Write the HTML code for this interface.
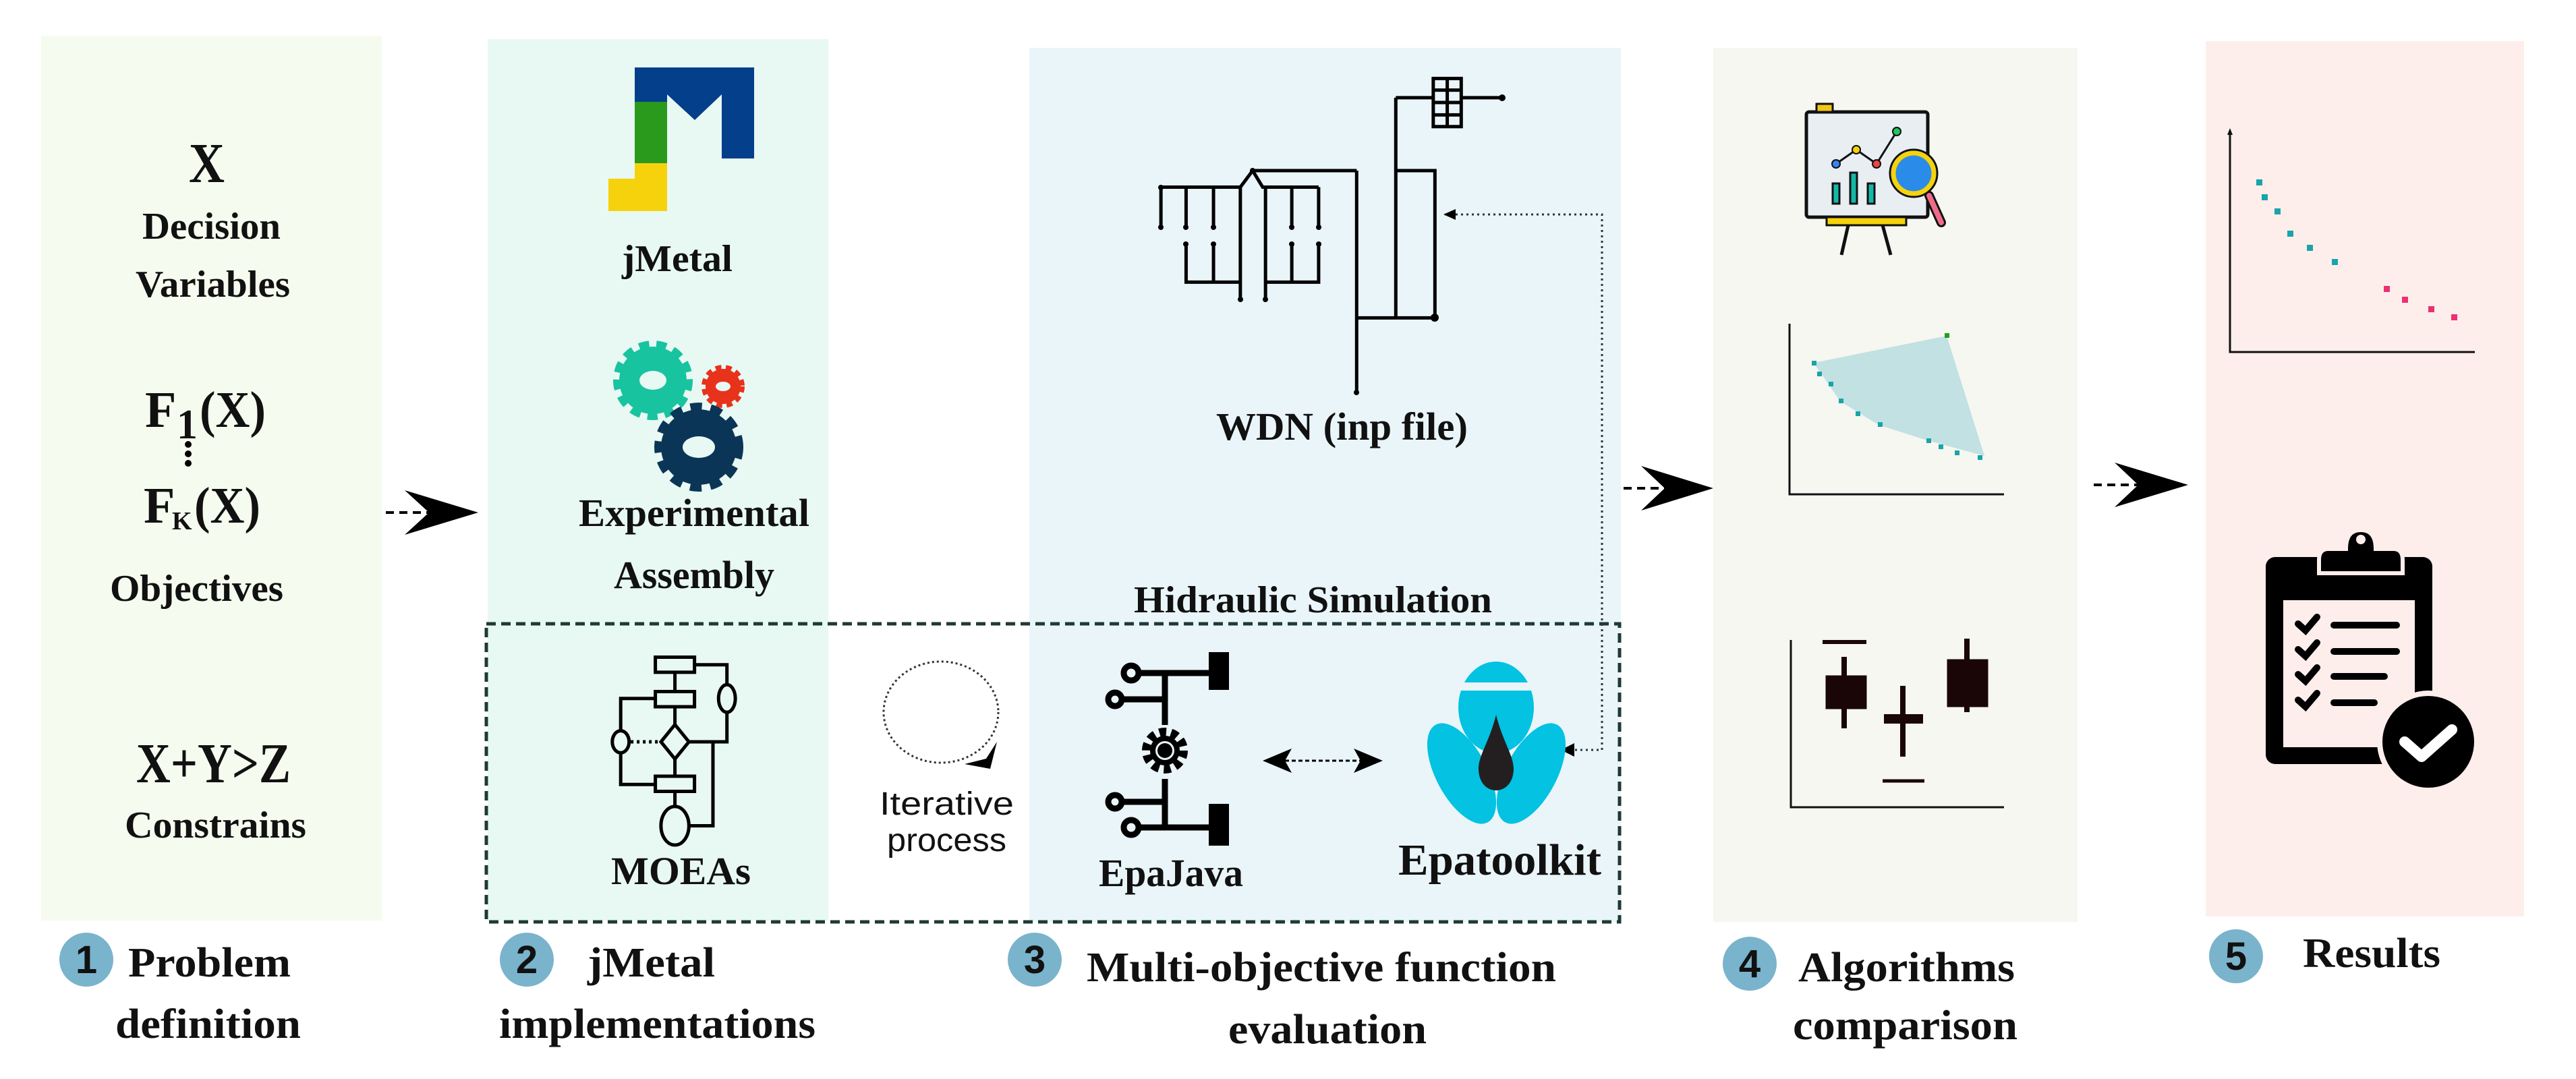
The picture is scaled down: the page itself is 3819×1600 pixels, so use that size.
<!DOCTYPE html>
<html><head><meta charset="utf-8"><style>
html,body{margin:0;padding:0;background:#fff;}
svg{display:block;}
text{font-family:"Liberation Serif",serif;font-weight:bold;fill:#111;}
.s{font-family:"Liberation Sans",sans-serif;font-weight:normal;}
</style></head><body>
<svg width="3819" height="1600" viewBox="0 0 3819 1600" xmlns="http://www.w3.org/2000/svg">
<!-- panels -->
<rect x="61" y="53" width="505" height="1312" fill="#f6fbef"/>
<rect x="723" y="58" width="505" height="1307" fill="#e8f8f3"/>
<rect x="1526" y="71" width="877" height="1296" fill="#e9f5f9"/>
<rect x="2540" y="71" width="540" height="1296" fill="#f5f7f0"/>
<rect x="3270" y="61" width="472" height="1298" fill="#fdeeec"/>
<!-- dashed box -->
<rect x="721" y="925" width="1680" height="442" fill="none" stroke="#1e3a34" stroke-width="5" stroke-dasharray="14,8"/>

<!-- arrows -->
<g fill="#000">
<line x1="572" y1="760" x2="640" y2="760" stroke="#000" stroke-width="4" stroke-dasharray="12,8"/>
<polygon points="709,760 600,727 636,760 600,793"/>
<line x1="2407" y1="724" x2="2475" y2="724" stroke="#000" stroke-width="4" stroke-dasharray="12,8"/>
<polygon points="2540,724 2433,691 2468,724 2433,757"/>
<line x1="3104" y1="719" x2="3172" y2="719" stroke="#000" stroke-width="4" stroke-dasharray="12,8"/>
<polygon points="3244,719 3135,686 3170,719 3135,752"/>
</g>

<!-- Panel 1 text -->
<text x="280" y="270" font-size="84" textLength="53" lengthAdjust="spacingAndGlyphs">X</text>
<text x="211" y="354" font-size="56" textLength="205" lengthAdjust="spacingAndGlyphs">Decision</text>
<text x="201" y="440" font-size="56" textLength="229" lengthAdjust="spacingAndGlyphs">Variables</text>
<text x="215" y="633" font-size="76">F</text>
<text x="262" y="650" font-size="62">1</text>
<text x="296" y="633" font-size="76" textLength="98" lengthAdjust="spacingAndGlyphs">(X)</text>
<circle cx="279" cy="659" r="5"/><circle cx="279" cy="673" r="5"/><circle cx="279" cy="687" r="5"/>
<text x="213" y="775" font-size="76">F</text>
<text x="255" y="785" font-size="38">K</text>
<text x="288" y="775" font-size="76" textLength="98" lengthAdjust="spacingAndGlyphs">(X)</text>
<text x="163" y="891" font-size="56" textLength="257" lengthAdjust="spacingAndGlyphs">Objectives</text>
<text x="202" y="1160" font-size="84" textLength="229" lengthAdjust="spacingAndGlyphs">X+Y&gt;Z</text>
<text x="185" y="1242" font-size="56" textLength="269" lengthAdjust="spacingAndGlyphs">Constrains</text>

<!-- Panel 2: jMetal logo -->
<polygon points="941,100 1118,100 1118,235 1070,235 1070,140 1030,178 989,140 989,151 941,151" fill="#033f8a"/>
<rect x="941" y="151" width="48" height="91" fill="#2a9a1d"/>
<polygon points="941,242 989,242 989,313 902,313 902,265 941,265" fill="#f5d20c"/>
<text x="922" y="402" font-size="56" textLength="164" lengthAdjust="spacingAndGlyphs">jMetal</text>
<!-- gears -->
<g>
<circle cx="968" cy="564" r="50" fill="#18c3a0" stroke="#18c3a0" stroke-width="18" stroke-dasharray="14,10"/>
<ellipse cx="968" cy="564" rx="20" ry="14" fill="#e8f8f3"/>
<circle cx="1072" cy="573" r="26" fill="#e8321b" stroke="#e8321b" stroke-width="12" stroke-dasharray="8,6"/>
<ellipse cx="1072" cy="573" rx="11" ry="7" fill="#e8f8f3"/>
<circle cx="1036" cy="663" r="56" fill="#0b3557" stroke="#0b3557" stroke-width="20" stroke-dasharray="16,12"/>
<ellipse cx="1036" cy="663" rx="24" ry="16" fill="#e8f8f3"/>
</g>
<text x="858" y="780" font-size="58" textLength="342" lengthAdjust="spacingAndGlyphs">Experimental</text>
<text x="910" y="872" font-size="58" textLength="238" lengthAdjust="spacingAndGlyphs">Assembly</text>
<!-- flowchart -->
<g transform="scale(0.829,1.0204)" fill="none" stroke="#000" stroke-width="5">
<rect x="1172" y="955" width="70" height="22" vector-effect="non-scaling-stroke"/>
<rect x="1172" y="1005" width="70" height="22" vector-effect="non-scaling-stroke"/>
<rect x="1172" y="1128" width="70" height="22" vector-effect="non-scaling-stroke"/>
<polyline points="1207,977 1207,1005" vector-effect="non-scaling-stroke"/>
<polyline points="1172,1015 1110,1015 1110,1062" vector-effect="non-scaling-stroke"/>
<polyline points="1110,1094 1110,1140 1172,1140" vector-effect="non-scaling-stroke"/>
<polyline points="1242,966 1300,966 1300,995" vector-effect="non-scaling-stroke"/>
<polyline points="1300,1035 1300,1078 1232,1078" vector-effect="non-scaling-stroke"/>
<polygon points="1207,1053 1232,1078 1207,1103 1182,1078" vector-effect="non-scaling-stroke"/>
<polyline points="1207,1027 1207,1053" vector-effect="non-scaling-stroke"/>
<polyline points="1207,1103 1207,1128" vector-effect="non-scaling-stroke"/>
<polyline points="1207,1150 1207,1172" vector-effect="non-scaling-stroke"/>
<polyline points="1275,1078 1275,1200 1232,1200" vector-effect="non-scaling-stroke"/>
<ellipse cx="1300" cy="1015" rx="15" ry="20" vector-effect="non-scaling-stroke"/>
<ellipse cx="1110" cy="1078" rx="15" ry="16" vector-effect="non-scaling-stroke"/>
<ellipse cx="1207" cy="1200" rx="25" ry="28" vector-effect="non-scaling-stroke"/>
<line x1="1128" y1="1078" x2="1180" y2="1078" stroke-dasharray="4,5" vector-effect="non-scaling-stroke"/>
</g>
<text x="906" y="1311" font-size="58" textLength="207" lengthAdjust="spacingAndGlyphs">MOEAs</text>

<!-- iterative -->
<ellipse cx="1395" cy="1056" rx="85" ry="75" fill="none" stroke="#333" stroke-width="3" stroke-dasharray="3,4"/>
<polygon points="1478,1100 1468,1140 1430,1133 1462,1125" fill="#000"/>
<text class="s" x="1304" y="1208" font-size="48" textLength="199" lengthAdjust="spacingAndGlyphs">Iterative</text>
<text class="s" x="1315" y="1262" font-size="48" textLength="177" lengthAdjust="spacingAndGlyphs">process</text>

<!-- WDN network -->
<g transform="translate(1300,0) scale(0.829,1.0204)" fill="none" stroke="#000" stroke-width="5">
<polyline points="672,248 858,248" vector-effect="non-scaling-stroke"/>
<polyline points="508,272 650,272 672,248 690,272 790,272" vector-effect="non-scaling-stroke"/>
<line x1="508" y1="272" x2="508" y2="330" vector-effect="non-scaling-stroke"/>
<line x1="553" y1="272" x2="553" y2="330" vector-effect="non-scaling-stroke"/>
<line x1="602" y1="272" x2="602" y2="330" vector-effect="non-scaling-stroke"/>
<line x1="650" y1="272" x2="650" y2="435" vector-effect="non-scaling-stroke"/>
<line x1="695" y1="272" x2="695" y2="435" vector-effect="non-scaling-stroke"/>
<line x1="742" y1="272" x2="742" y2="330" vector-effect="non-scaling-stroke"/>
<line x1="790" y1="272" x2="790" y2="330" vector-effect="non-scaling-stroke"/>
<polyline points="553,355 553,410 650,410" vector-effect="non-scaling-stroke"/>
<line x1="602" y1="355" x2="602" y2="410" vector-effect="non-scaling-stroke"/>
<polyline points="695,410 790,410 790,355" vector-effect="non-scaling-stroke"/>
<line x1="742" y1="355" x2="742" y2="410" vector-effect="non-scaling-stroke"/>
<line x1="858" y1="248" x2="858" y2="570" vector-effect="non-scaling-stroke"/>
<line x1="858" y1="462" x2="998" y2="462" vector-effect="non-scaling-stroke"/>
<line x1="928" y1="142" x2="928" y2="462" vector-effect="non-scaling-stroke"/>
<polyline points="928,248 998,248 998,462" vector-effect="non-scaling-stroke"/>
<line x1="928" y1="142" x2="1118" y2="142" vector-effect="non-scaling-stroke"/>
<rect x="995" y="114" width="50" height="70" fill="#e9f5f9" vector-effect="non-scaling-stroke"/>
<line x1="995" y1="131" x2="1045" y2="131" vector-effect="non-scaling-stroke"/>
<line x1="995" y1="149" x2="1045" y2="149" vector-effect="non-scaling-stroke"/>
<line x1="995" y1="167" x2="1045" y2="167" vector-effect="non-scaling-stroke"/>
<line x1="1020" y1="114" x2="1020" y2="184" vector-effect="non-scaling-stroke"/>
</g>
<g fill="#000">
<circle cx="1721" cy="278" r="4"/><circle cx="1721" cy="337" r="4"/><circle cx="1758" cy="337" r="4"/><circle cx="1799" cy="337" r="4"/>
<circle cx="1915" cy="337" r="4"/><circle cx="1955" cy="337" r="4"/><circle cx="1758" cy="362" r="4"/><circle cx="1799" cy="362" r="4"/>
<circle cx="1915" cy="362" r="4"/><circle cx="1955" cy="362" r="4"/><circle cx="1839" cy="444" r="4"/><circle cx="1876" cy="444" r="4"/>
<circle cx="2011" cy="582" r="4"/><circle cx="2127" cy="471" r="6"/><circle cx="2227" cy="145" r="5"/><circle cx="1857" cy="253" r="4"/>
</g>
<text x="1803" y="652" font-size="58" textLength="373" lengthAdjust="spacingAndGlyphs">WDN (inp file)</text>
<!-- dotted feedback -->
<polyline points="2142,318 2375,318 2375,1112 2320,1112" fill="none" stroke="#333" stroke-width="3" stroke-dasharray="3,5"/>
<polygon points="2140,318 2158,310 2158,326" fill="#000"/>
<polygon points="2314,1112 2334,1102 2334,1122" fill="#000"/>
<text x="1681" y="908" font-size="56" textLength="531" lengthAdjust="spacingAndGlyphs">Hidraulic Simulation</text>

<!-- EpaJava icon -->
<g fill="none" stroke="#000" stroke-width="9">
<circle cx="1677" cy="998" r="11"/><circle cx="1653" cy="1037" r="10"/>
<circle cx="1653" cy="1189" r="10"/><circle cx="1677" cy="1227" r="11"/>
<polyline points="1688,998 1800,998"/><polyline points="1663,1037 1727,1037"/>
<polyline points="1663,1189 1727,1189"/><polyline points="1688,1227 1800,1227"/>
<line x1="1727" y1="998" x2="1727" y2="1075"/><line x1="1727" y1="1155" x2="1727" y2="1227"/>
<circle cx="1727" cy="1113" r="27" stroke="#000" stroke-width="14" stroke-dasharray="10,7"/>
<circle cx="1727" cy="1113" r="18" stroke-width="8"/>
</g>
<circle cx="1727" cy="1113" r="11" fill="#000"/>
<rect x="1792" y="967" width="30" height="56" fill="#000"/>
<rect x="1792" y="1192" width="30" height="62" fill="#000"/>
<text x="1629" y="1314" font-size="58" textLength="214" lengthAdjust="spacingAndGlyphs">EpaJava</text>
<!-- double arrow -->
<line x1="1895" y1="1128" x2="2030" y2="1128" stroke="#000" stroke-width="3" stroke-dasharray="6,4"/>
<polygon points="1872,1128 1915,1110 1905,1128 1915,1146" fill="#000"/>
<polygon points="2050,1128 2007,1110 2017,1128 2007,1146" fill="#000"/>
<!-- Epatoolkit logo -->
<ellipse cx="2218" cy="1049" rx="56" ry="68" fill="#03c2e2"/>
<rect x="2160" y="1012" width="116" height="12" fill="#e9f5f9"/>
<ellipse cx="2167" cy="1147" rx="38" ry="82" fill="#03c2e2" transform="rotate(-28 2167 1147)"/>
<ellipse cx="2270" cy="1147" rx="38" ry="82" fill="#03c2e2" transform="rotate(28 2270 1147)"/>
<path d="M2218,1060 C2228,1100 2244,1120 2244,1140 C2244,1160 2232,1172 2218,1172 C2204,1172 2192,1160 2192,1140 C2192,1120 2208,1100 2218,1060Z" fill="#231f20"/>
<text x="2073" y="1297" font-size="66" textLength="301" lengthAdjust="spacingAndGlyphs">Epatoolkit</text>

<!-- Panel 4 -->
<g>
<rect x="2678" y="166" width="180" height="156" fill="#e9eef2" stroke="#111" stroke-width="5" rx="4"/>
<rect x="2693" y="154" width="24" height="12" fill="#f5c518" stroke="#111" stroke-width="3"/>
<rect x="2708" y="322" width="118" height="12" fill="#f5d20c" stroke="#111" stroke-width="3"/>
<line x1="2740" y1="334" x2="2730" y2="378" stroke="#111" stroke-width="5"/>
<line x1="2791" y1="334" x2="2803" y2="378" stroke="#111" stroke-width="5"/>
<rect x="2717" y="272" width="10" height="30" fill="#14b8a6" stroke="#111" stroke-width="3"/>
<rect x="2743" y="256" width="10" height="46" fill="#14b8a6" stroke="#111" stroke-width="3"/>
<rect x="2769" y="272" width="10" height="30" fill="#14b8a6" stroke="#111" stroke-width="3"/>
<polyline points="2722,243 2752,222 2782,243 2812,195" fill="none" stroke="#111" stroke-width="3"/>
<circle cx="2722" cy="243" r="6" fill="#3b82f6" stroke="#111" stroke-width="2"/>
<circle cx="2752" cy="222" r="6" fill="#f5d20c" stroke="#111" stroke-width="2"/>
<circle cx="2782" cy="243" r="6" fill="#ef4444" stroke="#111" stroke-width="2"/>
<circle cx="2812" cy="195" r="6" fill="#22c55e" stroke="#111" stroke-width="2"/>
<line x1="2860" y1="290" x2="2878" y2="330" stroke="#111" stroke-width="14" stroke-linecap="round"/>
<line x1="2860" y1="290" x2="2878" y2="330" stroke="#f06a8a" stroke-width="8" stroke-linecap="round"/>
<circle cx="2837" cy="257" r="35" fill="#2b8be8" stroke="#111" stroke-width="3"/>
<circle cx="2837" cy="257" r="30" fill="none" stroke="#f5d20c" stroke-width="7"/>
</g>
<!-- scatter with area -->
<polyline points="2653,480 2653,733 2971,733" fill="none" stroke="#111" stroke-width="3"/>
<polygon points="2689,538 2886,498 2942,676 2857,653 2785,630 2728,595" fill="#c1e1e3"/>
<g fill="#19a4a8">
<rect x="2686" y="535" width="7" height="7"/><rect x="2694" y="551" width="7" height="7"/><rect x="2711" y="566" width="7" height="7"/>
<rect x="2726" y="591" width="7" height="7"/><rect x="2751" y="610" width="7" height="7"/><rect x="2784" y="626" width="7" height="7"/>
<rect x="2856" y="650" width="7" height="7"/><rect x="2874" y="659" width="7" height="7"/><rect x="2898" y="668" width="7" height="7"/><rect x="2932" y="675" width="7" height="7"/>
</g>
<rect x="2883" y="494" width="7" height="7" fill="#20a020"/>
<!-- box plot -->
<polyline points="2655,949 2655,1197 2971,1197" fill="none" stroke="#111" stroke-width="3"/>
<g fill="#1a0606" stroke="#1a0606">
<line x1="2702" y1="952" x2="2767" y2="952" stroke-width="6"/>
<line x1="2734" y1="974" x2="2734" y2="1080" stroke-width="8"/>
<rect x="2707" y="1002" width="60" height="49"/>
<line x1="2793" y1="1066" x2="2851" y2="1066" stroke-width="14"/>
<line x1="2821" y1="1017" x2="2821" y2="1122" stroke-width="8"/>
<line x1="2791" y1="1158" x2="2853" y2="1158" stroke-width="5"/>
<line x1="2916" y1="947" x2="2916" y2="1056" stroke-width="8"/>
<rect x="2887" y="978" width="60" height="70"/>
</g>

<!-- Panel 5 -->
<polyline points="3306,196 3306,522 3669,522" fill="none" stroke="#111" stroke-width="3"/>
<polygon points="3306,190 3302,200 3310,200" fill="#111"/>
<g fill="#19a4a8">
<rect x="3345" y="266" width="9" height="9"/><rect x="3353" y="288" width="9" height="9"/><rect x="3372" y="309" width="9" height="9"/>
<rect x="3391" y="342" width="9" height="9"/><rect x="3420" y="363" width="9" height="9"/><rect x="3457" y="384" width="9" height="9"/>
</g>
<g fill="#ec2f73">
<rect x="3534" y="424" width="9" height="9"/><rect x="3561" y="440" width="9" height="9"/><rect x="3600" y="454" width="9" height="9"/><rect x="3634" y="466" width="9" height="9"/>
</g>
<!-- clipboard -->
<rect x="3359" y="826" width="247" height="307" rx="14" fill="#000"/>
<rect x="3385" y="890" width="195" height="218" fill="#fdeeec"/>
<path d="M3438,830 Q3438,814 3452,814 L3478,814 Q3478,786 3500,786 Q3522,786 3522,814 L3548,814 Q3562,814 3562,830 L3562,850 L3438,850Z" fill="#000" stroke="#fdeeec" stroke-width="6"/>
<circle cx="3500" cy="800" r="7" fill="#fdeeec"/>
<g stroke="#000" stroke-width="10" fill="none" stroke-linecap="round">
<polyline points="3407,925 3418,935 3435,915"/><line x1="3460" y1="927" x2="3553" y2="927"/>
<polyline points="3407,963 3418,973 3435,953"/><line x1="3460" y1="966" x2="3553" y2="966"/>
<polyline points="3407,1000 3418,1010 3435,990"/><line x1="3460" y1="1003" x2="3535" y2="1003"/>
<polyline points="3407,1038 3418,1048 3435,1028"/><line x1="3460" y1="1042" x2="3520" y2="1042"/>
</g>
<circle cx="3600" cy="1100" r="76" fill="#fdeeec"/>
<circle cx="3600" cy="1100" r="68" fill="#000"/>
<polyline points="3565,1100 3590,1122 3635,1082" fill="none" stroke="#fff" stroke-width="16" stroke-linecap="round" stroke-linejoin="round"/>

<!-- bottom labels -->
<g fill="#7ab3cc">
<circle cx="128" cy="1423" r="40"/><circle cx="781" cy="1423" r="40"/><circle cx="1534" cy="1423" r="40"/>
<circle cx="2594" cy="1429" r="40"/><circle cx="3315" cy="1418" r="40"/>
</g>
<text x="128" y="1443" font-size="58" text-anchor="middle" class="s" style="font-weight:bold">1</text>
<text x="781" y="1443" font-size="58" text-anchor="middle" class="s" style="font-weight:bold">2</text>
<text x="1534" y="1443" font-size="58" text-anchor="middle" class="s" style="font-weight:bold">3</text>
<text x="2594" y="1449" font-size="58" text-anchor="middle" class="s" style="font-weight:bold">4</text>
<text x="3315" y="1438" font-size="58" text-anchor="middle" class="s" style="font-weight:bold">5</text>
<text x="190" y="1448" font-size="62" textLength="241" lengthAdjust="spacingAndGlyphs">Problem</text>
<text x="171" y="1539" font-size="62" textLength="275" lengthAdjust="spacingAndGlyphs">definition</text>
<text x="871" y="1448" font-size="62" textLength="189" lengthAdjust="spacingAndGlyphs">jMetal</text>
<text x="740" y="1539" font-size="62" textLength="469" lengthAdjust="spacingAndGlyphs">implementations</text>
<text x="1611" y="1455" font-size="62" textLength="696" lengthAdjust="spacingAndGlyphs">Multi-objective function</text>
<text x="1821" y="1547" font-size="62" textLength="294" lengthAdjust="spacingAndGlyphs">evaluation</text>
<text x="2666" y="1455" font-size="62" textLength="321" lengthAdjust="spacingAndGlyphs">Algorithms</text>
<text x="2658" y="1541" font-size="62" textLength="333" lengthAdjust="spacingAndGlyphs">comparison</text>
<text x="3414" y="1434" font-size="62" textLength="204" lengthAdjust="spacingAndGlyphs">Results</text>
</svg>
</body></html>
